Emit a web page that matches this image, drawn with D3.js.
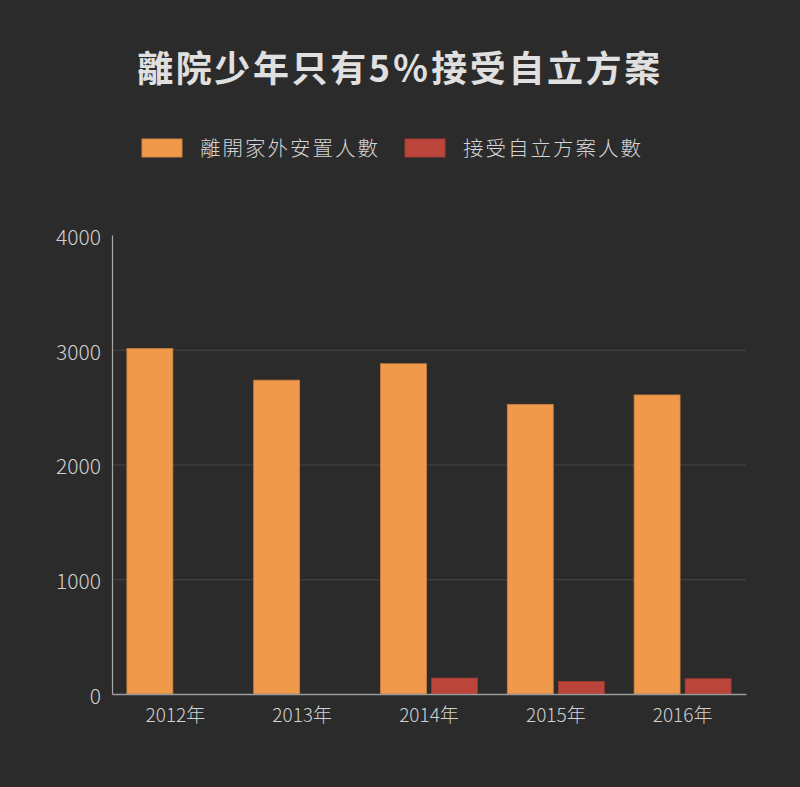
<!DOCTYPE html>
<html><head><meta charset="utf-8">
<script src="https://cdn.jsdelivr.net/npm/d3@7/dist/d3.min.js"></script>
<style>
html,body{margin:0;padding:0;background:#2b2b2b;}
svg{display:block;}
</style></head>
<body><svg id="c" width="800" height="787"></svg>
<script>
const title = "離院少年只有5％接受自立方案";
const years = ["2012年","2013年","2014年","2015年","2016年"];
const seriesNames = ["離開家外安置人數","接受自立方案人數"];
const leaveValues = [3010, 2735, 2878, 2524, 2606];
const independentValues = [0, 0, 139, 110, 133];
const yTicks = [0, 1000, 2000, 3000, 4000];
const colors = ["#F0994A", "#BC453B"];

const svg = d3.select("#c");
const font = "'Noto Sans CJK TC','Noto Sans',sans-serif";
svg.append("rect").attr("width",800).attr("height",787).attr("fill","#2b2b2b");

const m = {left:112, right:746, top:235, bottom:694};
const y = d3.scaleLinear().domain([0,4000]).range([m.bottom, m.top]);
const x0 = d3.scaleBand().domain(years).range([m.left, m.right]).paddingInner(0.235).paddingOuter(0.1175);
const x1 = d3.scaleBand().domain([0,1]).range([0, x0.bandwidth()]).paddingInner(0.1);

// title
svg.append("text").attr("x",400).attr("y",82).attr("text-anchor","middle")
  .attr("font-family",font).attr("font-weight",700).attr("font-size",36)
  .attr("letter-spacing",2.6).attr("fill","#e0e0e0").text(title);

// legend
const legX = [142, 405];
seriesNames.forEach((n,i)=>{
  svg.append("rect").attr("x",legX[i]).attr("y",139).attr("width",40).attr("height",18)
    .attr("fill",colors[i]).attr("stroke",d3.color(colors[i]).darker(0.4)).attr("stroke-width",1);
  svg.append("text").attr("x",legX[i]+58).attr("y",155.5)
    .attr("font-family",font).attr("font-weight",300).attr("font-size",20.5).attr("letter-spacing",2)
    .attr("fill","#d4d4d4").text(n);
});

// gridlines
svg.append("g").selectAll("line").data(yTicks.filter(t=>t>0 && t<4000)).join("line")
  .attr("x1",m.left).attr("x2",m.right).attr("y1",d=>y(d)+0.5).attr("y2",d=>y(d)+0.5)
  .attr("stroke","#474747").attr("stroke-width",1);

// y axis
const yAxis = svg.append("g").attr("transform",`translate(${m.left},0)`)
  .call(d3.axisLeft(y).tickValues(yTicks).tickSize(0).tickPadding(11).tickFormat(d3.format("d")));
yAxis.select(".domain").attr("stroke","#a8a8a8").attr("stroke-width",1.2);
yAxis.selectAll("text").attr("font-family",font).attr("font-weight",300).attr("font-size",21)
  .attr("dy","0.45em").attr("fill","#d0d0d0");

// bars
const data = years.map((yr,i)=>({yr, vals:[leaveValues[i], independentValues[i]]}));
const g = svg.append("g").selectAll("g").data(data).join("g")
  .attr("transform",d=>`translate(${x0(d.yr)},0)`);
g.selectAll("rect").data(d=>d.vals.map((v,k)=>({v,k}))).join("rect")
  .attr("x",d=>x1(d.k)).attr("width",x1.bandwidth())
  .attr("y",d=>y(d.v)).attr("height",d=>m.bottom-y(d.v))
  .attr("fill",d=>colors[d.k])
  .attr("stroke",d=>d.v>0?d3.color(colors[d.k]).darker(0.5):"none").attr("stroke-width",0.8);

// x axis
const xAxis = svg.append("g").attr("transform",`translate(0,${m.bottom})`)
  .call(d3.axisBottom(x0).tickSize(0).tickPadding(15));
xAxis.select(".domain").attr("stroke","#9a9a9a").attr("stroke-width",1.6);
xAxis.selectAll("text").attr("font-family",font).attr("font-weight",300).attr("font-size",19)
  .attr("fill","#d0d0d0");
</script></body></html>
